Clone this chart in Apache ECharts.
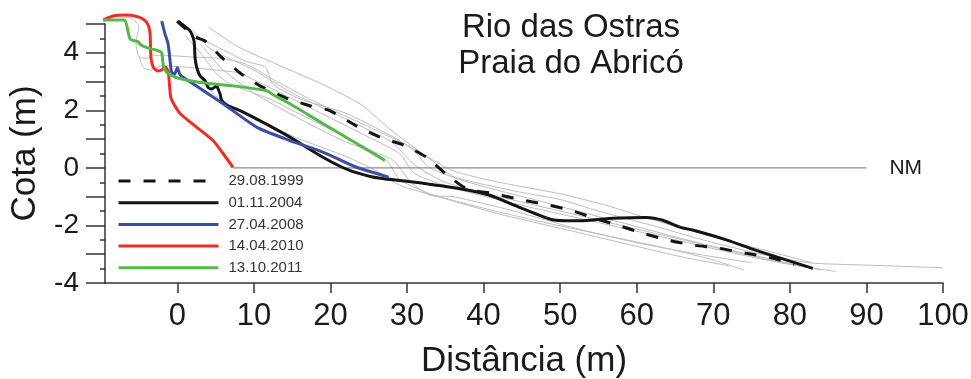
<!DOCTYPE html>
<html>
<head>
    <meta charset="utf-8">
    <title>Rio das Ostras - Praia do Abricó</title>
    <script src="https://cdn.jsdelivr.net/npm/echarts@6/dist/echarts.min.js"></script>
    <style>
        html, body { margin: 0; width: 100%; height: 100%; background: #fff; }
        #main { width: 971px; height: 379px; }
    </style>
</head>
<body>
    <div id="main"></div>
    <script type="text/javascript">
        // perfis datados [distancia (m), cota (m)]
        var p1999 = [[-0.04, 5.10], [2.31, 4.55], [3.62, 4.41], [5.70, 3.86], [8.19, 3.30], [10.8, 2.85], [14.5, 2.40],
            [17.3, 2.16], [19.9, 1.99], [23.3, 1.47], [26.5, 1.06], [29.7, 0.78], [32.6, 0.36], [35.1, -0.22],
            [37.9, -0.74], [41.1, -0.88], [44.6, -1.09], [47.9, -1.26], [51.3, -1.47], [54.5, -1.75], [57.5, -1.99],
            [60.8, -2.27], [64.1, -2.51], [67.3, -2.68], [70.7, -2.79], [74.1, -2.96], [77.2, -3.10], [80.6, -3.34]];
        var p2004 = [[0.1, 5.10], [1.66, 4.76], [2.18, 4.41], [2.31, 3.83], [2.53, 3.49], [2.96, 3.20], [3.62, 3.03],
            [4.0, 2.80], [4.49, 2.74], [5.14, 2.85], [5.31, 2.75], [5.57, 2.58], [5.80, 2.34], [6.62, 2.16],
            [8.19, 1.99], [11.2, 1.58], [14.7, 1.07], [19.0, 0.37], [22.5, -0.09], [25.2, -0.30], [26.5, -0.36],
            [30.8, -0.49], [37.3, -0.74], [40.8, -0.95], [44.7, -1.37], [49.0, -1.80], [52.6, -1.84], [56.9, -1.75],
            [61.3, -1.72], [63.4, -1.82], [65.6, -2.06], [67.3, -2.16], [71.8, -2.51], [76.1, -2.91], [83.0, -3.49]];
        var p2008 = [[-2.04, 5.10], [-1.61, 4.65], [-1.21, 4.31], [-0.95, 3.72], [-0.76, 3.34], [-0.37, 3.25],
            [0.0, 3.48], [0.35, 3.24], [1.66, 2.99], [5.97, 2.23], [10.4, 1.41], [14.7, 0.95], [19.0, 0.55],
            [23.3, 0.03], [27.6, -0.32]];
        var p2010 = [[-9.70, 5.14], [-8.39, 5.28], [-6.83, 5.31], [-5.52, 5.28], [-4.48, 5.17], [-3.82, 4.97],
            [-3.56, 4.65], [-3.50, 4.17], [-3.43, 3.79], [-3.11, 3.48], [-2.52, 3.37], [-2.00, 3.41], [-1.61, 3.51],
            [-1.21, 3.37], [-1.04, 2.92], [-0.86, 2.45], [-0.43, 2.20], [0.35, 1.89], [2.53, 1.41], [4.66, 0.95],
            [5.97, 0.50], [7.27, 0.02]];
        var p2011 = [[-9.87, 5.14], [-6.96, 5.14], [-6.17, 4.48], [-5.13, 4.38], [-4.74, 4.27], [-3.99, 4.18],
            [-2.48, 4.07], [-2.04, 4.00], [-1.83, 3.55], [-1.34, 3.30], [-0.04, 3.13], [2.96, 2.97], [7.27, 2.85],
            [11.7, 2.68], [12.5, 2.54], [14.7, 2.23], [19.0, 1.54], [23.4, 0.85], [27.1, 0.26]];

        // demais levantamentos (cinza)
        var grayProfiles = [
            [[0.5, 4.95], [3, 4.5], [6, 4.1], [9, 3.7], [11.5, 3.5], [12.5, 2.9], [16, 2.4], [22, 1.9], [28, 1.1],
                [33, 0.3], [36, -0.3], [44, -0.8], [50, -1.1], [55, -1.5], [62, -2.0], [70, -2.6], [78, -3.1],
                [83, -3.31], [89, -3.37], [100, -3.47]],
            [[2, 4.8], [4, 4.2], [6, 3.9], [10, 3.4], [15, 2.6], [22, 1.7], [28, 0.9], [31, 0.1], [35, -0.5],
                [42, -1.0], [50, -1.5], [58, -2.0], [66, -2.5], [74, -3.0], [80, -3.35], [86, -3.6]],
            [[1, 4.6], [3, 4.0], [5, 3.3], [7, 2.9], [12, 2.4], [18, 1.6], [24, 0.8], [27.5, 0.2], [29, -0.4],
                [33, -0.9], [40, -1.4], [48, -1.9], [56, -2.35], [64, -2.8], [70, -3.2], [74, -3.55]],
            [[3, 4.3], [6, 3.4], [10, 2.6], [16, 1.7], [22, 0.9], [28, 0.3], [30.5, -0.5], [33, -0.95], [36, -1.0],
                [44, -1.5], [52, -2.1], [60, -2.6], [68, -3.0], [75, -3.3]],
            [[-5, 3.9], [-4.5, 3.5], [-3.5, 3.4], [-2, 3.55], [1, 3.5], [5, 3.4], [8, 3.3], [12, 2.8], [18, 2.0],
                [24, 1.2], [29, 0.5], [31, -0.2], [36, -0.7], [45, -1.3], [55, -1.9], [65, -2.5], [75, -3.1], [82, -3.45]],
            [[-8.2, 5.25], [-6, 5.2], [-5, 4.9], [-5.4, 4.4], [-5.1, 3.9], [-4.2, 3.8], [-3, 3.9], [-1, 3.9],
                [2, 3.85], [6, 3.8], [9, 3.6], [13, 3.0], [18, 2.3], [26, 1.3], [30.5, 0.7], [33, 0.0], [38, -0.5],
                [48, -1.2], [58, -1.9], [68, -2.6], [78, -3.2], [84, -3.55]],
            [[4, 4.9], [8, 4.2], [13, 3.6], [19, 2.9], [24, 2.2], [28, 1.3], [32, 0.5], [36, -0.1], [42, -0.5],
                [50, -0.9], [56, -1.3], [62, -1.8], [70, -2.4], [78, -2.95], [83, -3.3]],
            [[2.5, 3.3], [5, 2.5], [10, 1.7], [16, 1.0], [22, 0.4], [26, -0.1], [29, -0.6], [34, -1.0], [42, -1.6],
                [50, -2.1], [58, -2.6], [66, -3.1], [72, -3.4]]
        ];

        var nmLine = [[7.3, 0], [90, 0]];

        var names = ['29.08.1999', '01.11.2004', '27.04.2008', '14.04.2010', '13.10.2011'];
        var profiles = [p1999, p2004, p2008, p2010, p2011];
        var colors = ['#141414', '#141414', '#3b4da6', '#ee2e24', '#55b848'];

        var xTicks = [0, 10, 20, 30, 40, 50, 60, 70, 80, 90, 100];
        var yLabels = [-4, -2, 0, 2, 4];

        var font = "'Liberation Sans', Arial, sans-serif";
        var axisColor = '#333';

        var series = [];
        grayProfiles.forEach(function (d) {
            series.push({
                type: 'line', data: d, symbol: 'none', smooth: 0.2, clip: false, silent: true,
                lineStyle: { color: '#bdbdbd', width: 1 }, z: 1
            });
        });
        series.push({
            name: 'NM', type: 'line', data: nmLine, symbol: 'none', clip: false, silent: true,
            lineStyle: { color: '#8c8c8c', width: 1.2 }, z: 2,
            endLabel: { show: true, formatter: 'NM', distance: 23, fontSize: 21, color: '#1a1a1a', fontFamily: font }
        });
        names.forEach(function (n, i) {
            series.push({
                name: n, type: 'line', data: profiles[i], symbol: 'none', smooth: 0.2, clip: false,
                lineStyle: { color: colors[i], width: 3, type: i === 0 ? [12, 13] : 'solid' },
                itemStyle: { color: colors[i] }, z: 3 + i
            });
        });

        var myChart = echarts.init(document.getElementById('main'), null, { renderer: 'canvas' });
        var option = {
            animation: false,
            backgroundColor: '#fff',
            textStyle: { fontFamily: font },
            grid: { left: 105, right: 28, top: 24, bottom: 96, containLabel: false, outerBoundsMode: 'none' },
            graphic: [{
                type: 'text', x: 571, y: 10,
                style: {
                    text: 'Rio das Ostras\nPraia do Abricó', textAlign: 'center', fontSize: 33,
                    lineHeight: 36, fill: '#1a1a1a', fontFamily: font
                }
            }],
            legend: {
                data: names, orient: 'vertical', left: 117, top: 173, padding: 0,
                itemWidth: 100, itemHeight: 14, itemGap: 5.7, selectedMode: false,
                itemStyle: { opacity: 0 },
                lineStyle: { width: 3 },
                textStyle: { fontSize: 15, lineHeight: 16, color: '#333', padding: [0, 0, 0, 5], fontFamily: font }
            },
            xAxis: {
                type: 'value', min: -9.45, max: 100,
                name: 'Distância (m)', nameLocation: 'middle', nameGap: 61,
                nameTextStyle: { fontSize: 35, color: '#1a1a1a', fontFamily: font },
                axisLine: { show: true, onZero: false, lineStyle: { color: axisColor, width: 1.5 } },
                axisTick: { show: true, length: 10, customValues: xTicks, lineStyle: { color: axisColor, width: 1.5 } },
                axisLabel: { customValues: xTicks, fontSize: 31, margin: 18, color: '#1a1a1a', fontFamily: font },
                splitLine: { show: false }
            },
            yAxis: {
                type: 'value', min: -4, max: 5, interval: 1,
                name: 'Cota (m)', nameLocation: 'middle', nameGap: 60,
                nameTextStyle: { fontSize: 35, color: '#1a1a1a', fontFamily: font },
                axisLine: { show: true, onZero: false, lineStyle: { color: axisColor, width: 1.5 } },
                axisTick: { show: true, length: 19, lineStyle: { color: axisColor, width: 1.5 } },
                minorTick: { show: true, splitNumber: 2, length: 5, lineStyle: { color: axisColor, width: 1.5 } },
                axisLabel: { customValues: yLabels, fontSize: 28, margin: 26, color: '#1a1a1a', fontFamily: font },
                splitLine: { show: false }
            },
            series: series
        };
        myChart.setOption(option);
    </script>
</body>
</html>
